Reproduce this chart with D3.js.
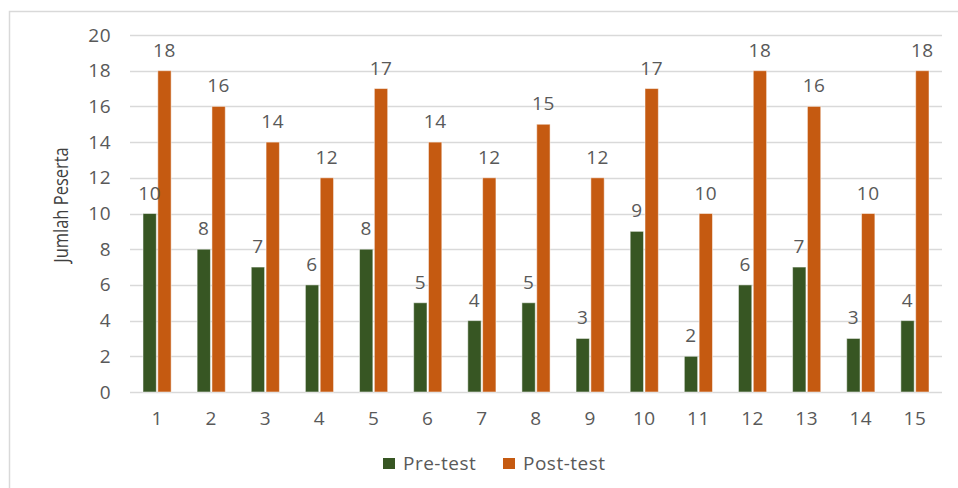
<!DOCTYPE html>
<html>
<head>
<meta charset="utf-8">
<script src="https://cdn.jsdelivr.net/npm/d3@7"></script>
<style>
  html, body { margin: 0; padding: 0; background: #fff; }
  svg { display: block; font-family: "Open Sans", "Liberation Sans", sans-serif; }
</style>
</head>
<body>
<svg id="chart" width="958" height="488"></svg>
<script>
// Participant numbers and scores
const participants = ["1","2","3","4","5","6","7","8","9","10","11","12","13","14","15"];
const preTest  = [10, 8, 7, 6, 8, 5, 4, 5, 3, 9, 2, 6, 7, 3, 4];
const postTest = [18, 16, 14, 12, 17, 14, 12, 15, 12, 17, 10, 18, 16, 10, 18];
const seriesNames = ["Pre-test", "Post-test"];
const yTicks = [0, 2, 4, 6, 8, 10, 12, 14, 16, 18, 20];

const colors = { "Pre-test": "#375623", "Post-test": "#C55A11" };
const textColor = "#595959";
const fontSize = 19;
const spacing = "0.5px";

const svg = d3.select("#chart");

// Outer chart frame
svg.append("rect")
  .attr("x", 9.5).attr("y", 11.5)
  .attr("width", 960).attr("height", 490)
  .attr("fill", "none").attr("stroke", "#d9d9d9").attr("stroke-width", 1.5);

const plot = { left: 130, right: 942, top: 35, bottom: 392 };

const x = d3.scaleBand()
  .domain(participants)
  .range([plot.left, plot.right])
  .paddingInner(0.48)
  .paddingOuter(0.24);

const xSub = d3.scaleBand()
  .domain(seriesNames)
  .range([0, x.bandwidth()])
  .paddingInner(0.1);

const y = d3.scaleLinear().domain([0, 20]).range([plot.bottom, plot.top]);

// Gridlines
svg.append("g")
  .selectAll("line")
  .data(yTicks)
  .join("line")
  .attr("x1", plot.left).attr("x2", plot.right)
  .attr("y1", d => Math.round(y(d)) + 0.5).attr("y2", d => Math.round(y(d)) + 0.5)
  .attr("stroke", "#d9d9d9").attr("stroke-width", 1.5);

// Y axis labels
const yAxis = svg.append("g")
  .attr("transform", `translate(${plot.left - 19},0)`)
  .call(d3.axisLeft(y).tickValues(yTicks).tickSize(0).tickPadding(0));
yAxis.select(".domain").remove();
yAxis.selectAll("text")
  .attr("fill", textColor).attr("font-size", fontSize)
  .attr("letter-spacing", spacing)
  .attr("font-family", "'Open Sans', sans-serif");

// X axis labels
const xAxis = svg.append("g")
  .attr("transform", `translate(0,${plot.bottom})`)
  .call(d3.axisBottom(x).tickSize(0).tickPadding(0));
xAxis.select(".domain").remove();
xAxis.selectAll("text")
  .attr("dy", null)
  .attr("y", 33)
  .attr("fill", textColor).attr("font-size", fontSize)
  .attr("letter-spacing", spacing)
  .attr("font-family", "'Open Sans', sans-serif");

// Y axis title (slightly widened glyphs)
svg.append("text")
  .attr("transform", "translate(68,205) scale(1.25,1) rotate(-90)")
  .attr("text-anchor", "middle")
  .attr("fill", "#404040")
  .attr("font-size", 16.5)
  .text("Jumlah Peserta");

// Bars
const rows = participants.map((p, i) => ({ p, values: [
  { s: "Pre-test", v: preTest[i] },
  { s: "Post-test", v: postTest[i] }
]}));

const groups = svg.append("g")
  .selectAll("g")
  .data(rows)
  .join("g")
  .attr("transform", d => `translate(${x(d.p)},0)`);

groups.selectAll("rect")
  .data(d => d.values)
  .join("rect")
  .attr("x", d => xSub(d.s))
  .attr("y", d => y(d.v))
  .attr("width", xSub.bandwidth())
  .attr("height", d => y(0) - y(d.v))
  .attr("fill", d => colors[d.s])
  .attr("stroke", "#ffffff").attr("stroke-opacity", 0.5).attr("stroke-width", 1);

// Value labels
groups.selectAll("text")
  .data(d => d.values)
  .join("text")
  .attr("x", d => xSub(d.s) + xSub.bandwidth() / 2)
  .attr("y", d => y(d.v) - 14)
  .attr("text-anchor", "middle")
  .attr("fill", textColor)
  .attr("font-size", fontSize)
  .attr("letter-spacing", spacing)
  .text(d => d.v);

// Legend
const legend = svg.append("g").attr("transform", "translate(383,458)");
const legendItems = legend.selectAll("g")
  .data(seriesNames)
  .join("g")
  .attr("transform", (d, i) => `translate(${i * 120},0)`);
legendItems.append("rect")
  .attr("x", 0).attr("y", 0).attr("width", 12).attr("height", 11)
  .attr("fill", d => colors[d]);
legendItems.append("text")
  .attr("x", 20).attr("y", 11.5)
  .attr("fill", textColor).attr("font-size", fontSize)
  .attr("letter-spacing", spacing)
  .text(d => d);
</script>
</body>
</html>
